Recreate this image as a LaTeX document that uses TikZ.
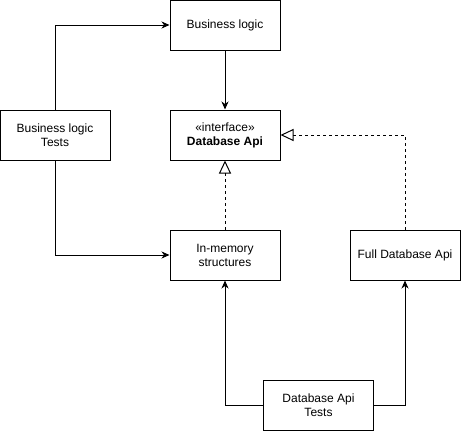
\documentclass[tikz,border=0pt]{standalone}
\usepackage{fontspec}
\setmainfont{Liberation Sans}
\usetikzlibrary{arrows.meta}
\begin{document}
\begin{tikzpicture}[x=1pt,y=-1pt,
  box/.style={draw=black,line width=1pt,fill=white,minimum width=110pt,minimum height=50pt,inner sep=0pt,align=center,font=\fontsize{12}{14}\selectfont},
  conn/.style={line width=1pt,-{Stealth[length=8pt,width=7pt,inset=2.5pt]}},
  real/.style={line width=1pt,dashed,dash pattern=on 3pt off 3pt,-{Triangle[open,length=13pt,width=12pt,line width=1pt]}}]
\useasboundingbox (0,0) rectangle (461,431);
\node[box] (bl) at (225,25) {Business logic};
\node[box] (blt) at (55,135) {Business logic\\Tests};
\node[box] (api) at (225,135) {«interface»\\\textbf{Database Api}};
\node[box] (mem) at (225,255) {In-memory\\structures};
\node[box] (full) at (405,255) {Full Database Api};
\node[box] (apit) at (318.5,405) {Database Api\\Tests};
\draw[conn] (blt.north) |- (bl.west);
\draw[conn] (bl.south) -- (api.north);
\draw[conn] (blt.south) |- (mem.west);
\draw[real] (mem.north) -- (api.south);
\draw[real] (full.north) |- (api.east);
\draw[conn] (apit.west) -| (mem.south);
\draw[conn] (apit.east) -| (full.south);
\end{tikzpicture}
\end{document}
